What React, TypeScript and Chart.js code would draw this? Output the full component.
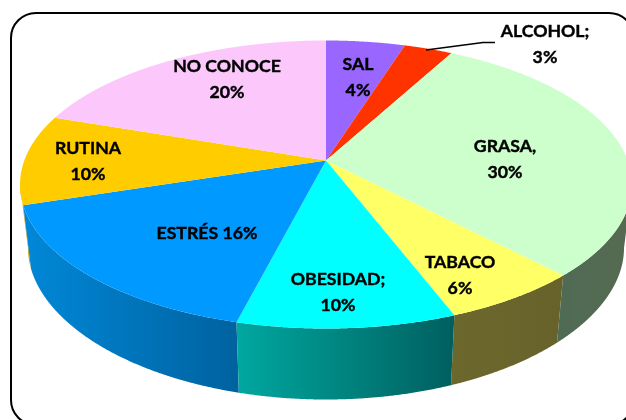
import React, { useEffect, useRef } from "react";
import { Chart, registerables } from "chart.js";

Chart.register(...registerables);

const categories = ["SAL", "ALCOHOL", "GRASA", "TABACO", "OBESIDAD", "ESTRÉS", "RUTINA", "NO CONOCE"];
const values = [4.9, 3.0, 29.95, 6.3, 9.85, 16.1, 10.1, 19.8];
const labelLines = [
  ["SAL", "4%"],
  ["ALCOHOL;", "3%"],
  ["GRASA,", "30%"],
  ["TABACO", "6%"],
  ["OBESIDAD;", "10%"],
  ["ESTRÉS 16%"],
  ["RUTINA", "10%"],
  ["NO CONOCE", "20%"],
];
const topColors = ["#9966ff", "#ff3300", "#ccffcc", "#ffff66", "#00ffff", "#0099ff", "#ffcc00", "#fcc8fc"];
const wallColors = [
  ["#5c3d99", "#5c3d99"],
  ["#991f00", "#991f00"],
  ["#4f6b55", "#566a50"],
  ["#6c682d", "#66622a"],
  ["#00a8a0", "#005f5f"],
  ["#0088d8", "#00629f"],
  ["#c89a00", "#c89a00"],
  ["#987a98", "#987a98"],
];
const labelAnchors = [
  [358, 64],
  [545, 31],
  [505, 146],
  [460, 262],
  [338, 279],
  [207, 233],
  [88, 148],
  [227, 66],
];

// perspective projection of the unit disc onto the page
const APEX_X = 326;
const APEX_Y = 160.5;
const PERSP = 0.1667;
const SCALE_X = 301.7;
const SCALE_Y = 140;

function rim(angle: number): [number, number] {
  const u = Math.cos(angle);
  const v = Math.sin(angle);
  const d = 1 - PERSP * v;
  return [APEX_X + (SCALE_X * u) / d, APEX_Y + (SCALE_Y * v) / d];
}

function floorRim(angle: number): [number, number] {
  const [x, y] = rim(angle);
  const v = Math.sin(angle);
  return [APEX_X + (x - APEX_X) * 0.974, y + 63 + 8 * v * Math.abs(v)];
}

const tiltedPie = {
  id: "tiltedPie",
  beforeDraw(chart: any) {
    const ctx = chart.ctx;
    ctx.save();
    ctx.fillStyle = "#ffffff";
    ctx.fillRect(0, 0, chart.width, chart.height);
    ctx.beginPath();
    ctx.roundRect(11, 13, 623, 412, 25);
    ctx.strokeStyle = "#000000";
    ctx.lineWidth = 2;
    ctx.stroke();
    ctx.restore();
  },
  beforeDatasetDraw(chart: any, args: any) {
    const ctx = chart.ctx;
    const arcs = args.meta.data;
    const step = Math.PI / 720;

    // side walls, back to front
    const walls = arcs
      .map((arc: any, i: number) => {
        const angles: number[] = [];
        for (let t = arc.startAngle; t < arc.endAngle; t += step) {
          if (Math.sin(t) >= PERSP) angles.push(t);
        }
        if (angles.length && Math.sin(arc.endAngle) >= PERSP) angles.push(arc.endAngle);
        return { i, angles, mid: Math.sin((arc.startAngle + arc.endAngle) / 2) };
      })
      .filter((w: any) => w.angles.length > 1)
      .sort((a: any, b: any) => a.mid - b.mid);

    for (const w of walls) {
      const top = w.angles.map(rim);
      const bottom = w.angles.map(floorRim).reverse();
      const pts = [...top, ...bottom];
      const xs = pts.map((p: number[]) => p[0]);
      const grad = ctx.createLinearGradient(Math.min(...xs), 0, Math.max(...xs), 0);
      grad.addColorStop(0, wallColors[w.i][0]);
      grad.addColorStop(1, wallColors[w.i][1]);
      ctx.beginPath();
      pts.forEach((p: number[], n: number) => (n ? ctx.lineTo(p[0], p[1]) : ctx.moveTo(p[0], p[1])));
      ctx.closePath();
      ctx.fillStyle = grad;
      ctx.fill();
    }

    // top faces
    arcs.forEach((arc: any, i: number) => {
      ctx.beginPath();
      ctx.moveTo(APEX_X, APEX_Y);
      for (let t = arc.startAngle; t < arc.endAngle; t += step) {
        const [x, y] = rim(t);
        ctx.lineTo(x, y);
      }
      const [ex, ey] = rim(arc.endAngle);
      ctx.lineTo(ex, ey);
      ctx.closePath();
      ctx.fillStyle = topColors[i];
      ctx.fill();
    });
    return false;
  },
  afterDraw(chart: any) {
    const ctx = chart.ctx;
    ctx.save();
    // leader line of the ALCOHOL label
    ctx.beginPath();
    ctx.moveTo(426, 50);
    ctx.lineTo(483, 42.5);
    ctx.lineTo(495, 42.5);
    ctx.strokeStyle = "#000000";
    ctx.lineWidth = 1.3;
    ctx.stroke();

    ctx.font = 'bold 17.7px Lato, "Open Sans", sans-serif';
    ctx.fillStyle = "#000000";
    ctx.strokeStyle = "#000000";
    ctx.lineWidth = 0.4;
    ctx.textAlign = "center";
    ctx.textBaseline = "middle";
    labelLines.forEach((lines, i) => {
      lines.forEach((line, n) => {
        const y = labelAnchors[i][1] + 0.5 + n * 26;
        ctx.fillText(line, labelAnchors[i][0], y);
        ctx.strokeText(line, labelAnchors[i][0], y);
      });
    });
    ctx.restore();
  },
};

export default function App() {
  const ref = useRef<HTMLCanvasElement>(null);
  useEffect(() => {
    document.body.style.margin = "0";
    const chart = new Chart(ref.current!, {
      type: "pie",
      data: {
        labels: categories,
        datasets: [{ data: values, backgroundColor: topColors, borderWidth: 0 }],
      },
      options: {
        responsive: false,
        animation: false,
        plugins: { legend: { display: false }, tooltip: { enabled: false } },
      },
      plugins: [tiltedPie],
    } as any);
    return () => chart.destroy();
  }, []);
  return <canvas ref={ref} width={626} height={420} style={{ display: "block" }} />;
}
